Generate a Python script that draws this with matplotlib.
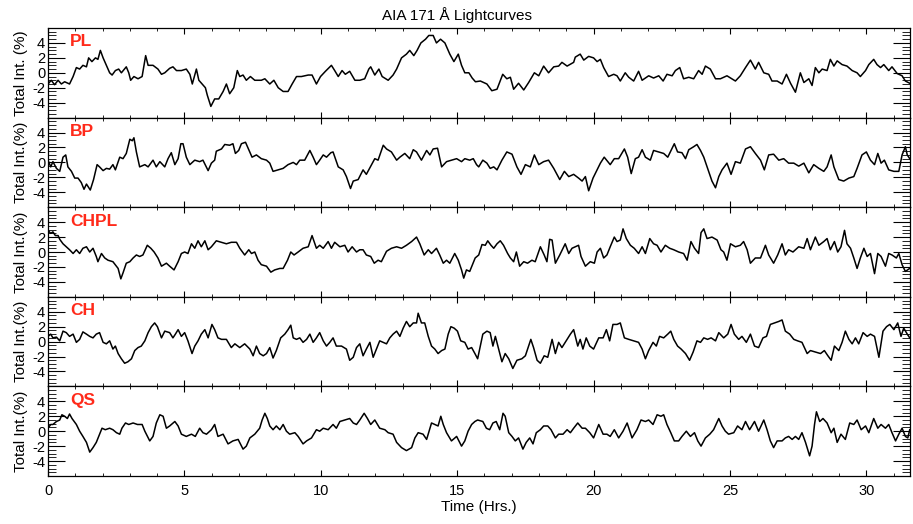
import matplotlib
matplotlib.use("Agg")
import matplotlib.pyplot as plt
from matplotlib.ticker import MultipleLocator

plt.rcParams['font.family'] = ['Liberation Sans', 'DejaVu Sans']
plt.rcParams['axes.unicode_minus'] = False

# ---- data: (time in hours, total intensity in %) ----
pl_points = [(0.00,-1.5),(0.12,-1.0),(0.24,-1.6),(0.37,-1.0),(0.49,-1.5),(0.61,-1.2),(0.79,-1.5),(0.92,-0.5),(1.04,0.7),(1.16,0.5),(1.28,1.0),(1.41,0.8),(1.49,2.0),(1.61,1.5),(1.74,2.0),(1.83,1.8),(1.92,3.0),(2.02,2.0),(2.14,1.0),(2.26,0.0),(2.35,-0.3),(2.47,0.3),(2.59,0.5),(2.69,0.0),(2.87,0.8),(2.96,0.0),(3.03,-1.0),(3.15,-0.5),(3.30,-0.8),(3.45,-0.5),(3.58,2.3),(3.67,1.0),(3.85,1.0),(4.03,0.5),(4.16,-0.2),(4.28,0.0),(4.46,0.6),(4.58,0.8),(4.71,0.3),(4.89,0.3),(5.07,0.5),(5.20,-0.2),(5.29,-1.5),(5.44,0.5),(5.53,-1.0),(5.65,-1.5),(5.77,-2.0),(5.84,-3.0),(5.97,-4.5),(6.11,-3.5),(6.26,-3.5),(6.42,-2.5),(6.54,-1.5),(6.66,-2.8),(6.81,-2.0),(6.94,0.3),(7.03,-0.5),(7.15,-0.3),(7.27,-1.0),(7.42,-0.5),(7.58,-1.0),(7.82,-1.0),(7.95,-0.8),(8.13,-1.5),(8.28,-1.0),(8.44,-2.0),(8.62,-2.5),(8.80,-2.5),(8.95,-1.5),(9.11,-0.5),(9.29,-0.5),(9.54,-0.3),(9.68,-0.3),(9.84,-1.5),(9.99,-0.5),(10.17,0.2),(10.39,1.0),(10.51,0.3),(10.64,-0.5),(10.78,0.3),(10.90,-0.2),(11.06,0.2),(11.25,-1.0),(11.43,-1.0),(11.61,-0.8),(11.76,0.5),(11.83,0.8),(11.98,-0.3),(12.13,0.5),(12.25,-0.5),(12.47,-1.0),(12.65,-0.3),(12.78,0.5),(12.96,2.0),(13.14,2.5),(13.26,3.0),(13.41,2.3),(13.53,3.0),(13.67,4.0),(13.84,4.5),(13.96,5.0),(14.12,5.0),(14.24,4.0),(14.39,4.5),(14.55,4.0),(14.73,2.5),(14.88,1.5),(15.04,2.5),(15.16,1.0),(15.28,0.0),(15.43,0.0),(15.55,-0.7),(15.67,-1.2),
             (15.85,-1.1),(16.09,-1.5),(16.27,-2.4),(16.46,-2.2),(16.67,-0.2),(16.82,-0.8),(16.95,-0.6),(17.07,-2.2),(17.25,-1.4),(17.44,-2.3),(17.62,-1.3),(17.83,0.0),(17.99,-0.4),(18.17,0.9),(18.35,0.0),(18.54,0.8),(18.72,0.9),(18.84,1.4),(19.03,0.9),(19.27,1.4),(19.33,2.1),(19.51,2.5),(19.64,1.7),(19.82,2.2),(20.00,2.0),(20.13,1.5),(20.25,1.8),(20.37,0.7),(20.55,-0.5),(20.74,-0.2),(20.86,-0.4),(20.98,-1.1),(21.16,0.0),(21.29,-0.6),(21.47,-1.1),(21.65,0.2),(21.78,-1.0),(22.02,-0.4),(22.20,-0.7),(22.39,-0.4),(22.55,-1.1),(22.69,-0.2),(22.88,-0.4),(23.00,0.3),(23.16,0.7),(23.30,-0.8),(23.49,-0.6),(23.67,-0.8),(23.85,0.3),(23.98,-0.2),(24.10,0.9),(24.28,0.5),(24.47,-0.8),(24.65,-0.8),(24.89,-0.4),(25.02,-0.7),(25.20,-1.1),(25.38,-0.4),(25.57,0.7),(25.75,1.7),(25.93,0.5),(26.05,1.4),(26.24,0.0),(26.42,-0.2),(26.54,-1.1),(26.73,-1.1),(26.91,-1.5),(27.07,-0.2),(27.22,-1.4),(27.40,-2.6),(27.58,0.0),(27.71,-1.3),(27.89,-0.8),(28.01,-1.7),(28.13,0.7),(28.26,0.0),(28.38,0.5),(28.56,0.3),(28.68,1.8),(28.81,0.9),(28.93,1.6),(29.11,1.1),(29.29,0.9),(29.48,0.3),(29.66,0.0),(29.78,-0.5),(29.97,0.3),(30.09,1.1),(30.27,1.8),(30.39,1.1),(30.52,0.7),(30.64,1.1),(30.82,0.3),(30.94,0.8),(31.13,-0.1),(31.31,-0.4),(31.43,-1.1),(31.59,-1.4)]

bp_points = [(0.00,0.3),(0.10,-0.6),(0.18,0.1),(0.31,-0.8),(0.43,-1.2),(0.55,0.7),(0.65,1.0),(0.73,-0.6),(0.86,-1.2),(0.98,-2.1),(1.10,-2.1),(1.22,-2.7),(1.32,-3.6),(1.41,-2.9),(1.55,-3.7),(1.67,-2.3),(1.80,-0.3),(1.89,-0.6),(2.02,-1.1),(2.14,-0.8),(2.26,-0.9),(2.38,-0.3),(2.47,-1.0),(2.63,0.7),(2.75,0.5),(2.87,1.2),(3.00,3.1),(3.09,2.9),(3.15,3.3),(3.24,1.4),(3.36,-0.6),(3.55,-0.3),(3.67,-0.6),(3.85,0.3),(3.97,-0.6),(4.10,0.1),(4.28,-0.6),(4.40,0.5),(4.52,1.3),(4.65,-0.3),(4.77,0.5),(4.87,2.5),(4.95,2.5),(5.07,0.7),(5.20,-0.3),(5.38,0.3),(5.56,0.1),(5.68,0.3),(5.87,-1.1),(5.99,-0.1),(6.11,0.3),(6.17,1.5),(6.36,1.8),(6.48,2.4),(6.66,2.3),(6.78,2.5),(6.87,1.2),(6.99,1.6),(7.09,2.5),(7.24,2.7),(7.36,1.7),(7.48,0.7),(7.64,1.0),(7.82,0.5),(8.01,0.3),(8.13,-0.1),(8.25,-1.2),(8.44,-1.0),(8.62,-0.8),(8.80,-0.3),(8.99,0.0),(9.11,-0.3),(9.23,0.3),(9.41,0.3),(9.60,1.6),(9.72,0.7),(9.84,-0.3),(9.96,0.3),(10.09,1.0),(10.21,0.7),(10.37,1.3),(10.45,1.4),(10.64,-0.6),(10.82,-1.0),(10.94,-1.9),(11.09,-3.5),(11.19,-2.5),(11.37,-2.3),(11.55,-1.0),(11.67,-1.6),(11.86,-0.3),(11.98,0.5),(12.10,0.3),(12.29,2.3),(12.41,1.8),(12.59,1.4),(12.78,0.3),(12.90,0.7),(13.08,1.2),(13.26,0.5),(13.39,1.7),(13.51,1.4),(13.69,0.3),(13.88,1.6),(14.00,1.0),(14.12,1.8),(14.28,1.9),(14.43,-0.6),(14.61,0.1),(14.79,0.3),(14.98,0.5),(15.16,0.1),(15.28,0.5),(15.46,0.3),(15.59,0.5),(15.71,-0.3),
             (15.79,-0.6),(15.94,0.3),(16.09,-0.1),(16.21,-0.8),(16.34,-0.6),(16.46,-1.0),(16.64,0.3),(16.82,1.4),(17.01,1.1),(17.19,-0.6),(17.34,-1.6),(17.50,-0.3),(17.68,-0.6),(17.83,1.0),(17.99,-0.3),(18.17,0.1),(18.35,0.3),(18.54,-0.8),(18.76,-2.3),(18.93,-1.2),(19.09,-1.9),(19.27,-1.6),(19.45,-2.1),(19.58,-2.5),(19.70,-1.9),(19.82,-3.8),(19.98,-2.1),(20.10,-1.2),(20.25,-0.1),(20.39,0.7),(20.52,0.1),(20.61,-0.3),(20.76,0.5),(20.92,0.5),(21.13,1.8),(21.25,0.7),(21.38,-1.5),(21.53,0.5),(21.65,0.7),(21.78,1.7),(21.90,0.7),(22.08,0.3),(22.20,1.6),(22.39,1.4),(22.57,1.2),(22.72,0.7),(22.84,1.6),(22.96,2.5),(23.08,1.4),(23.24,1.3),(23.37,0.5),(23.49,1.7),(23.67,2.1),(23.79,2.4),(23.92,1.6),(24.04,0.7),(24.18,-0.8),(24.34,-2.5),(24.47,-3.4),(24.59,-1.9),(24.71,-1.0),(24.89,-0.1),(25.04,-1.6),(25.20,0.1),(25.38,-0.1),(25.57,1.8),(25.75,2.1),(25.93,1.2),(26.12,0.3),(26.26,-1.0),(26.42,1.0),(26.60,1.1),(26.79,0.3),(26.97,0.5),(27.15,-0.1),(27.34,-0.1),(27.52,-0.5),(27.71,-0.1),(27.89,-1.4),(28.07,-0.3),(28.26,-0.8),(28.44,-1.2),(28.56,-0.6),(28.71,1.0),(28.81,-0.6),(28.99,-2.3),(29.17,-2.5),(29.36,-2.1),(29.54,-1.9),(29.66,-0.8),(29.84,1.0),(30.00,1.4),(30.15,0.3),(30.30,-0.3),(30.42,1.2),(30.54,-0.1),(30.66,0.3),(30.82,-1.0),(31.01,-1.2),(31.19,-1.2),(31.31,1.0),(31.43,2.1),(31.50,1.0),(31.59,0.5)]

chpl_points = [(0.00,2.9),(0.10,2.5),(0.18,2.7),(0.27,2.2),(0.37,2.2),(0.43,1.7),(0.55,1.1),(0.67,0.7),(0.79,0.3),(0.92,-0.2),(1.04,0.3),(1.16,-0.2),(1.28,0.5),(1.41,0.7),(1.53,0.0),(1.65,0.5),(1.77,-0.6),(1.83,-1.3),(1.96,-0.2),(2.08,-0.8),(2.20,-1.1),(2.38,-1.3),(2.57,-2.2),(2.67,-3.6),(2.75,-2.8),(2.87,-1.5),(3.00,-1.3),(3.12,-0.8),(3.24,-0.4),(3.36,-0.6),(3.48,-0.4),(3.64,0.9),(3.77,0.5),(3.89,0.0),(4.03,-0.8),(4.16,-1.9),(4.34,-1.5),(4.46,-1.9),(4.62,-2.4),(4.77,-1.3),(4.89,-0.2),(5.01,0.0),(5.13,-0.2),(5.26,1.1),(5.38,0.5),(5.50,1.5),(5.62,0.7),(5.75,1.5),(5.87,0.3),(5.99,0.7),(6.17,1.5),(6.36,1.3),(6.54,1.1),(6.72,1.3),(6.91,1.3),(7.03,0.5),(7.21,-0.4),(7.36,0.3),(7.46,-0.2),(7.58,0.0),(7.70,-1.1),(7.82,-1.7),(8.01,-1.9),(8.17,-2.7),(8.31,-2.4),(8.50,-2.2),(8.62,-2.2),(8.78,-1.1),(8.90,0.0),(9.02,-0.4),(9.17,0.0),(9.35,0.5),(9.54,0.7),(9.68,2.2),(9.84,0.5),(9.96,0.9),(10.09,0.5),(10.27,1.4),(10.39,0.5),(10.51,1.3),(10.70,0.7),(10.88,0.9),(11.00,0.0),(11.15,0.7),(11.31,0.0),(11.43,0.3),(11.55,0.3),(11.67,-0.4),(11.83,-0.6),(11.96,-1.5),(12.10,-1.1),(12.22,-1.3),(12.41,0.1),(12.59,0.5),(12.78,0.7),(12.96,0.5),(13.14,0.9),(13.33,1.4),(13.51,2.0),(13.63,1.1),(13.79,-0.4),(13.94,0.3),(14.06,-0.2),(14.24,0.5),(14.36,-0.4),(14.49,-1.5),(14.61,-1.1),(14.73,-1.5),(14.91,-0.2),(15.04,-1.1),(15.16,-2.4),(15.24,-3.5),(15.34,-2.4),(15.46,-2.6),
               (15.66,-0.8),(15.79,-0.4),(15.91,1.0),(16.03,0.9),(16.12,1.5),(16.24,0.9),(16.34,0.5),(16.46,1.1),(16.58,1.5),(16.70,0.9),(16.85,-0.2),(16.95,-0.8),(17.07,-1.3),(17.17,0.0),(17.29,-1.9),(17.44,-1.3),(17.58,-1.5),(17.74,-1.1),(17.86,-1.3),(18.05,0.7),(18.19,-0.4),(18.29,-1.3),(18.39,1.7),(18.48,1.6),(18.60,-1.5),(18.76,-0.4),(18.96,1.1),(19.09,-0.2),(19.21,0.5),(19.33,0.7),(19.45,0.9),(19.54,-0.6),(19.70,-1.9),(19.88,-1.3),(20.03,-1.5),(20.13,0.0),(20.25,0.5),(20.37,-0.8),(20.49,-0.4),(20.61,0.7),(20.76,2.0),(20.86,1.4),(20.98,1.6),(21.08,3.1),(21.20,1.8),(21.35,0.9),(21.49,0.5),(21.65,-0.2),(21.78,0.7),(21.90,-0.2),(22.06,1.8),(22.20,1.1),(22.33,0.9),(22.47,0.0),(22.63,0.9),(22.79,0.5),(22.94,0.3),(23.12,0.0),(23.30,-0.2),(23.43,-1.1),(23.57,1.4),(23.70,0.5),(23.85,-0.2),(23.94,2.6),(24.04,3.1),(24.16,1.8),(24.34,2.0),(24.53,1.6),(24.67,0.3),(24.77,0.0),(24.89,-1.1),(25.02,1.1),(25.20,0.7),(25.38,0.9),(25.50,1.4),(25.63,0.3),(25.75,-1.5),(25.93,-0.8),(26.12,-0.8),(26.30,0.9),(26.42,-0.4),(26.60,-1.5),(26.75,-0.4),(26.91,1.1),(27.03,-0.4),(27.15,0.3),(27.31,0.0),(27.52,0.7),(27.71,0.5),(27.83,1.8),(27.95,0.3),(28.13,2.0),(28.26,0.9),(28.44,1.4),(28.56,1.8),(28.68,0.3),(28.83,1.4),(28.95,0.0),(29.07,0.7),(29.20,2.9),(29.29,1.1),(29.42,0.5),(29.54,-0.8),(29.66,-2.2),(29.78,-0.8),(29.91,0.5),(30.03,-0.6),(30.15,-0.2),(30.30,-2.9),(30.42,-0.2),(30.54,-0.6),(30.70,-1.9),(30.82,-0.2),(30.94,-0.4),(31.10,-0.8),(31.19,-0.2),(31.31,-1.7),(31.43,-2.6),(31.59,-2.2)]

ch_points = [(0.00,0.7),(0.10,1.0),(0.18,0.5),(0.31,0.6),(0.43,0.1),(0.55,1.4),(0.67,1.2),(0.79,0.7),(0.92,1.0),(1.04,-0.1),(1.16,0.3),(1.28,1.3),(1.41,1.0),(1.53,0.7),(1.65,0.5),(1.77,1.0),(1.89,1.2),(2.02,-0.1),(2.14,-0.3),(2.26,0.1),(2.38,-1.0),(2.47,-0.6),(2.57,-1.6),(2.69,-2.3),(2.81,-2.9),(2.93,-2.7),(3.06,-2.3),(3.18,-1.2),(3.30,-0.8),(3.42,-0.6),(3.55,0.1),(3.67,1.2),(3.79,2.0),(3.91,2.5),(4.01,2.0),(4.16,0.5),(4.28,1.4),(4.46,1.2),(4.58,0.5),(4.67,1.0),(4.77,1.6),(4.89,0.7),(5.01,1.2),(5.13,0.1),(5.28,-1.6),(5.38,-0.6),(5.50,0.1),(5.62,1.0),(5.75,1.6),(5.87,0.5),(6.01,2.3),(6.11,1.6),(6.23,0.5),(6.36,0.3),(6.54,0.3),(6.72,-0.8),(6.85,-0.3),(7.03,-0.8),(7.21,-0.3),(7.40,-1.0),(7.52,-1.9),(7.64,-0.6),(7.76,-1.6),(7.89,-1.9),(8.01,-1.6),(8.13,-0.8),(8.25,-2.2),(8.37,-1.2),(8.53,0.5),(8.68,1.0),(8.80,1.6),(8.90,2.2),(8.99,0.5),(9.11,0.3),(9.23,0.5),(9.35,-0.1),(9.48,0.3),(9.60,1.0),(9.72,-0.1),(9.84,0.5),(9.96,1.2),(10.09,0.1),(10.21,-0.6),(10.33,-0.1),(10.45,0.5),(10.57,-0.6),(10.76,-0.6),(10.94,-1.0),(11.06,-2.5),(11.19,-2.1),(11.31,-0.8),(11.43,-0.3),(11.55,-1.9),(11.67,-1.0),(11.80,-0.1),(11.92,-2.1),(12.04,-1.0),(12.16,0.1),(12.29,-0.1),(12.41,-0.3),(12.53,0.5),(12.65,1.0),(12.78,1.4),(12.90,0.7),(13.02,1.8),(13.14,2.7),(13.26,2.0),(13.39,2.5),(13.51,2.5),(13.57,3.8),(13.69,2.5),(13.81,2.5),(13.94,0.7),(14.06,-0.6),(14.18,-1.0),(14.30,-1.6),(14.43,-1.2),(14.55,-1.0),(14.67,1.0),(14.77,2.0),(14.89,1.8),(15.01,1.4),(15.13,0.1),(15.28,-0.1),(15.40,-1.0),(15.53,-0.8),(15.65,-1.6),(15.75,-2.3),
             (15.94,1.0),(16.09,1.4),(16.21,1.2),(16.31,-0.6),(16.40,0.7),(16.52,-1.0),(16.64,-2.7),(16.76,-1.6),(16.89,-2.3),(17.04,-3.6),(17.19,-2.5),(17.37,-2.3),(17.50,-1.9),(17.62,-0.6),(17.70,0.3),(17.80,-0.8),(17.93,-2.5),(18.05,-2.9),(18.19,-1.9),(18.32,-2.1),(18.48,0.3),(18.60,-1.6),(18.72,-0.1),(18.84,-0.8),(18.96,-0.1),(19.15,1.0),(19.27,1.6),(19.42,-0.6),(19.51,0.3),(19.61,-1.0),(19.73,0.5),(19.86,-0.6),(20.00,-1.0),(20.19,0.5),(20.35,0.5),(20.47,1.6),(20.59,0.1),(20.71,2.3),(20.86,2.3),(20.98,2.5),(21.13,0.5),(21.29,0.3),(21.47,0.1),(21.65,-0.1),(21.78,-1.0),(21.90,-2.3),(22.02,-1.2),(22.18,-0.1),(22.30,-0.6),(22.42,0.7),(22.57,0.5),(22.72,1.0),(22.83,1.4),(22.94,0.3),(23.08,-0.6),(23.21,-1.0),(23.37,-1.6),(23.52,-2.5),(23.65,-1.4),(23.79,0.1),(23.92,-0.1),(24.04,0.5),(24.18,0.3),(24.31,0.5),(24.47,0.1),(24.59,1.2),(24.77,0.5),(24.92,1.0),(25.04,2.3),(25.16,1.0),(25.32,0.3),(25.44,0.7),(25.60,-0.1),(25.75,1.0),(25.90,-0.6),(26.05,-0.8),(26.21,0.5),(26.34,0.7),(26.48,2.3),(26.63,2.5),(26.79,2.7),(26.91,2.9),(27.03,1.4),(27.19,1.0),(27.34,0.3),(27.48,0.1),(27.64,-0.1),(27.83,-1.6),(27.95,-1.2),(28.13,-1.4),(28.32,-1.6),(28.46,-1.2),(28.59,-1.9),(28.71,-2.5),(28.83,-0.6),(28.99,-1.2),(29.11,-0.1),(29.23,1.4),(29.36,0.3),(29.48,-0.3),(29.60,0.5),(29.72,-0.3),(29.88,1.2),(30.03,0.7),(30.15,1.0),(30.30,0.7),(30.46,-2.1),(30.61,1.4),(30.74,2.0),(30.86,2.3),(31.01,1.6),(31.15,2.5),(31.27,0.7),(31.37,1.8),(31.50,1.0),(31.59,0.5)]

qs_points = [(0.00,0.4),(0.10,0.9),(0.18,0.9),(0.31,1.3),(0.43,1.5),(0.51,2.2),(0.61,2.0),(0.71,1.7),(0.79,2.3),(0.88,1.7),(1.04,0.9),(1.16,0.0),(1.28,-0.7),(1.41,-1.5),(1.53,-2.8),(1.65,-2.2),(1.77,-1.5),(1.89,-0.4),(1.98,0.4),(2.10,0.2),(2.26,0.4),(2.38,0.2),(2.51,-0.2),(2.63,-0.4),(2.71,0.4),(2.84,1.1),(2.96,0.9),(3.12,1.1),(3.28,0.9),(3.45,0.9),(3.55,0.0),(3.73,-1.3),(3.85,-0.7),(3.97,1.1),(4.10,2.2),(4.22,2.0),(4.34,0.4),(4.46,0.7),(4.65,1.3),(4.77,0.7),(4.89,-0.4),(5.07,-0.7),(5.26,-0.4),(5.40,-0.7),(5.56,0.4),(5.68,-0.2),(5.81,-0.4),(5.99,0.2),(6.11,0.9),(6.23,-0.7),(6.42,-0.4),(6.60,-1.7),(6.78,-1.3),(6.97,-1.1),(7.15,-2.4),(7.27,-2.0),(7.40,-0.9),(7.58,-0.4),(7.76,0.4),(7.85,1.5),(7.95,2.4),(8.04,1.7),(8.13,0.7),(8.25,0.2),(8.37,0.7),(8.50,0.2),(8.62,0.9),(8.74,0.0),(8.86,-0.4),(9.05,-0.2),(9.17,-0.7),(9.35,-1.7),(9.48,-1.3),(9.66,-0.9),(9.84,0.2),(9.96,0.0),(10.09,0.4),(10.27,0.2),(10.45,0.9),(10.57,0.4),(10.70,1.3),(10.88,1.5),(11.06,1.7),(11.19,1.1),(11.31,0.9),(11.43,1.5),(11.59,2.4),(11.71,1.7),(11.83,0.9),(11.98,1.5),(12.16,0.4),(12.35,0.2),(12.47,-0.2),(12.65,-0.4),(12.78,-1.5),(12.96,-2.2),(13.14,-2.6),(13.33,-2.2),(13.45,-0.9),(13.57,-0.2),(13.75,-0.4),(13.88,-1.1),(14.06,1.1),(14.18,0.9),(14.30,0.7),(14.40,2.0),(14.49,0.9),(14.61,-0.2),(14.79,-1.3),(14.98,-0.7),(15.16,-2.0),(15.28,-1.3),(15.40,0.0),(15.53,0.9),(15.65,1.3),(15.75,1.5),
             (15.94,1.3),(16.07,0.4),(16.19,0.2),(16.31,1.1),(16.43,1.3),(16.56,0.2),(16.68,2.4),(16.76,2.0),(16.89,-0.2),(17.01,-0.7),(17.13,-1.3),(17.25,-0.9),(17.41,-2.4),(17.53,-1.5),(17.66,-0.9),(17.78,-1.7),(17.90,-0.2),(18.05,0.2),(18.17,0.7),(18.32,0.7),(18.44,0.2),(18.60,-0.9),(18.72,-0.4),(18.88,-0.4),(19.03,0.2),(19.15,-0.2),(19.27,0.4),(19.42,1.1),(19.58,0.4),(19.70,0.4),(19.86,-0.2),(20.00,-0.9),(20.19,0.9),(20.35,-0.4),(20.49,-0.4),(20.61,-0.7),(20.76,0.2),(20.92,-0.9),(21.08,0.0),(21.23,1.1),(21.41,-0.9),(21.59,0.2),(21.74,1.5),(21.90,1.3),(22.02,1.5),(22.18,0.9),(22.33,2.2),(22.47,2.0),(22.57,2.2),(22.69,0.9),(22.83,-0.2),(22.96,-1.3),(23.12,-1.3),(23.24,-0.7),(23.40,0.0),(23.55,-0.7),(23.70,-0.2),(23.82,-1.3),(23.94,-2.0),(24.10,-0.9),(24.26,-0.4),(24.40,0.2),(24.59,1.7),(24.71,0.7),(24.83,0.0),(24.95,-0.4),(25.14,-0.2),(25.28,0.7),(25.44,0.2),(25.57,1.3),(25.72,0.2),(25.90,1.3),(26.05,0.0),(26.24,1.5),(26.36,0.2),(26.48,-1.3),(26.60,-2.2),(26.73,-1.3),(26.91,-1.3),(27.03,-0.9),(27.15,-0.7),(27.28,-1.1),(27.40,-0.7),(27.52,-1.1),(27.64,-0.2),(27.77,-1.5),(27.92,-3.3),(28.01,-2.0),(28.10,0.9),(28.17,2.6),(28.29,1.3),(28.41,1.7),(28.56,1.1),(28.71,-0.2),(28.81,0.4),(28.93,-1.5),(29.07,-0.4),(29.23,-1.1),(29.39,1.1),(29.54,0.9),(29.66,1.5),(29.81,0.2),(29.97,0.7),(30.09,-0.2),(30.27,1.7),(30.42,0.4),(30.54,0.9),(30.70,0.4),(30.82,0.9),(30.94,-0.2),(31.07,-1.3),(31.19,-0.4),(31.31,0.4),(31.43,-0.7),(31.52,-0.9),(31.59,0.2)]

region_names = ["PL", "BP", "CHPL", "CH", "QS"]
series = [pl_points, bp_points, chpl_points, ch_points, qs_points]
ylabels = ["Total Int. (%)", "Total Int.(%)", "Total Int.(%)", "Total Int.(%)", "Total Int.(%)"]
y_ticks = [-4, -2, 0, 2, 4]
x_ticks = [0, 5, 10, 15, 20, 25, 30]
title = "AIA 171 Å Lightcurves"
xlabel = "Time (Hrs.)"

W, H = 913, 524
fig = plt.figure(figsize=(W / 100, H / 100), dpi=100)
left, right = 48 / W, 910 / W
top, bottom = 1 - 28 / H, 1 - 476 / H
ph = (top - bottom) / 5
red = "#FF2A1A"

axes = []
for i, (name, pts, yl) in enumerate(zip(region_names, series, ylabels)):
    ax = fig.add_axes([left, top - (i + 1) * ph, right - left, ph])
    t = [p[0] for p in pts]
    v = [p[1] for p in pts]
    ax.plot(t, v, color="black", lw=1.1)
    ax.set_xlim(0, 31.6)
    ax.set_ylim(-6, 6)
    ax.set_yticks(y_ticks)
    ax.yaxis.set_minor_locator(MultipleLocator(0.5))
    ax.set_xticks(x_ticks)
    ax.xaxis.set_minor_locator(MultipleLocator(1))
    ax.tick_params(axis='y', which='major', direction='in', length=12, width=0.8,
                   left=True, right=True, labelsize=10.5, pad=2)
    ax.tick_params(axis='y', which='minor', direction='in', length=6, width=0.6,
                   left=True, right=True)
    ax.tick_params(axis='x', which='major', direction='in', length=4.5, width=0.8,
                   top=True, bottom=True, labelsize=10.5, pad=6)
    ax.tick_params(axis='x', which='minor', direction='in', length=2.5, width=0.6,
                   top=True, bottom=True)
    for s in ax.spines.values():
        s.set_linewidth(0.9)
    ax.set_ylabel(yl, fontsize=11, labelpad=3)
    ax.text(0.8, 4.15, name, color=red, fontsize=12.5, fontweight='bold',
            ha='left', va='center')
    if i < 4:
        ax.tick_params(axis='x', labelbottom=False)
    else:
        ax.set_xlabel(xlabel, fontsize=11, labelpad=1)
    axes.append(ax)

fig.text(0.5, 1 - 15 / H, title, ha='center', va='center', fontsize=11)
fig.savefig("out.png", dpi=100)
